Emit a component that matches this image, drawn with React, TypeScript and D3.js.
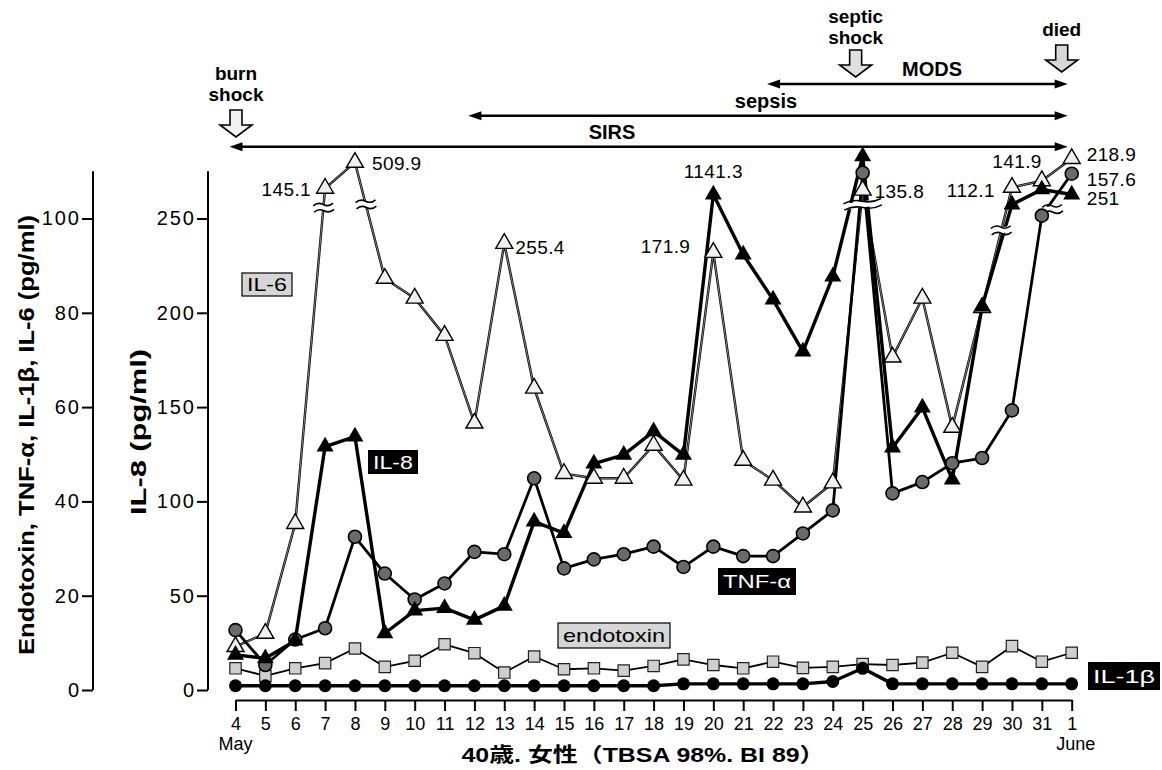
import React, { useRef, useEffect } from 'react';
import * as d3 from 'd3';

const FONT = '"Liberation Sans", Arial, Helvetica, sans-serif';
const NARROW = '"Liberation Sans Narrow", "Liberation Sans", Arial, sans-serif';
const CJK = '"Liberation Sans", "Noto Sans CJK JP", sans-serif';

// days of the stay, 4 May .. 1 June
const days = ['4', '5', '6', '7', '8', '9', '10', '11', '12', '13', '14', '15', '16', '17', '18', '19', '20',
  '21', '22', '23', '24', '25', '26', '27', '28', '29', '30', '31', '1'];

// left axis (pg/ml) -- values above 100 sit past the axis break, real value is in peakLabels
const il6 = [9.2, 12.0, 35.3, 106.4, 111.9, 87.3, 83.1, 75.2, 56.6, 94.7, 64.0, 45.9, 44.9, 44.9, 51.9, 44.5,
  92.8, 48.7, 44.5, 38.8, 43.9, 106, 70.6, 83.1, 55.7, 81.1, 106.6, 108.0, 112.7];
const tnf = [12.7, 5.3, 10.7, 13.1, 32.5, 24.7, 19.2, 22.6, 29.3, 28.8, 44.9, 25.8, 27.7, 28.8, 30.4, 26.1,
  30.4, 28.4, 28.4, 33.2, 38.1, 109.7, 41.7, 44.1, 48.1, 49.2, 59.3, 100.6, 109.5];
const endotoxin = [4.6, 3.0, 4.6, 5.7, 8.8, 4.9, 6.2, 9.7, 7.8, 3.7, 7.1, 4.4, 4.6, 4.1, 5.1, 6.5, 5.3, 4.6,
  6.0, 4.7, 4.9, 5.5, 5.3, 5.8, 7.9, 4.9, 9.3, 6.0, 7.9];
const il1b = [0.9, 0.9, 0.9, 0.9, 0.9, 0.9, 0.9, 0.9, 0.9, 0.9, 0.9, 0.9, 0.9, 0.9, 0.9, 1.3, 1.3, 1.3, 1.3,
  1.3, 1.8, 4.6, 1.3, 1.3, 1.3, 1.3, 1.3, 1.3, 1.3];
// IL-8 axis (pg/ml)
const il8 = [18.6, 16.8, 26.2, 129.1, 134.4, 30.1, 42.1, 43.4, 37.2, 44.6, 89.3, 83.2, 120, 124.7, 137.1, 124.7,
  262.7, 230.9, 207, 179.4, 219.2, 283, 128.5, 149.7, 111.5, 203.3, 257.4, 265.4, 262.7];

const leftTicks = [0, 20, 40, 60, 80, 100];
const il8Ticks = [0, 50, 100, 150, 200, 250];

const peakLabels = [
  { text: '145.1', series: 'il6', i: 3 },
  { text: '509.9', series: 'il6', i: 4 },
  { text: '255.4', series: 'il6', i: 9 },
  { text: '171.9', series: 'il6', i: 16 },
  { text: '1141.3', series: 'il8', i: 16 },
  { text: '135.8', series: 'tnf', i: 21 },
  { text: '112.1', series: 'il6', i: 26 },
  { text: '141.9', series: 'il6', i: 27 },
  { text: '218.9', series: 'il6', i: 28 },
  { text: '157.6', series: 'tnf', i: 28 },
  { text: '251', series: 'il8', i: 28 },
];

// axis-break marks (≈) on the lines, at fractional day index and left-axis value
const breaks = [
  { at: 2.95, v: 102.3, w: 20 },
  { at: 4.37, v: 103, w: 20 },
  { at: 21, v: 103, w: 38 },
  { at: 25.64, v: 97.5, w: 20 },
  { at: 27.36, v: 102, w: 20 },
];

const phases = [
  { name: 'SIRS', from: '4', to: '1' },
  { name: 'sepsis', from: '12', to: '1' },
  { name: 'MODS', from: '22', to: '1' },
];

const events = [
  { lines: ['burn', 'shock'], day: '4' },
  { lines: ['septic', 'shock'], day: '25' },
  { lines: ['died'], day: '1' },
];

export default function App() {
  const svgRef = useRef<SVGSVGElement>(null);

  useEffect(() => {
    const svg = d3.select(svgRef.current);
    svg.selectAll('*').remove();
    svg.append('rect').attr('width', 1162).attr('height', 770).attr('fill', 'white');

    const x = d3.scaleLinear().domain([0, days.length - 1]).range([235.5, 1071.7]);
    const yL = d3.scaleLinear().domain([0, 100]).range([690, 218.5]);
    const yR = d3.scaleLinear().domain([0, 250]).range([690, 218.5]);
    const dayX = (d: string) => x(days.indexOf(d));

    // ---- axes
    const styleAxis = (g: any, size: number, family: string, spacing: number) => {
      g.selectAll('.tick line').attr('stroke', '#000').attr('stroke-width', 2);
      g.selectAll('.tick text').attr('fill', '#000').style('font-size', size + 'px')
        .style('font-family', family).style('letter-spacing', spacing + 'px');
    };

    const gL = svg.append('g').attr('transform', 'translate(93,0)')
      .call(d3.axisLeft(yL).tickValues(leftTicks).tickSize(11).tickPadding(3));
    gL.select('.domain').remove();
    gL.append('line').attr('y1', yL(0)).attr('y2', yL(110)).attr('stroke', '#000').attr('stroke-width', 2);
    styleAxis(gL, 20, FONT, 2);
    gL.selectAll('.tick text').attr('dx', 2);

    const gR = svg.append('g').attr('transform', 'translate(208,0)')
      .call(d3.axisLeft(yR).tickValues(il8Ticks).tickSize(11).tickPadding(3));
    gR.select('.domain').remove();
    gR.append('line').attr('y1', yR(0)).attr('y2', yR(275)).attr('stroke', '#000').attr('stroke-width', 2);
    styleAxis(gR, 20, FONT, 2);
    gR.selectAll('.tick text').attr('dx', 2);

    const gX = svg.append('g').attr('transform', 'translate(0,700)')
      .call(d3.axisBottom(x).tickValues(d3.range(days.length)).tickFormat((i: any) => days[i])
        .tickSize(11).tickSizeOuter(0).tickPadding(6));
    gX.select('.domain').attr('stroke', '#000').attr('stroke-width', 2);
    styleAxis(gX, 18, NARROW, 0);

    svg.append('text').attr('x', x(0)).attr('y', 750).attr('text-anchor', 'middle')
      .style('font-family', FONT).style('font-size', '18px').text('May');
    svg.append('text').attr('x', x(days.length - 1) + 4).attr('y', 750).attr('text-anchor', 'middle')
      .style('font-family', FONT).style('font-size', '18px').text('June');

    svg.append('text').attr('x', 643).attr('y', 762).attr('text-anchor', 'middle')
      .attr('textLength', 363).attr('lengthAdjust', 'spacingAndGlyphs')
      .style('font-family', CJK).style('font-size', '20px').style('font-weight', 'bold')
      .text('40歳. 女性（TBSA 98%. BI 89）');

    svg.append('text').attr('transform', 'translate(26,435) rotate(-90)').attr('text-anchor', 'middle')
      .attr('dy', '0.35em').attr('textLength', 440).attr('lengthAdjust', 'spacingAndGlyphs')
      .style('font-family', FONT).style('font-size', '22px').style('font-weight', 'bold')
      .text('Endotoxin, TNF-α, IL-1β, IL-6 (pg/ml)');
    svg.append('text').attr('transform', 'translate(138,432) rotate(-90)').attr('text-anchor', 'middle')
      .attr('dy', '0.35em').attr('textLength', 166).attr('lengthAdjust', 'spacingAndGlyphs')
      .style('font-family', FONT).style('font-size', '22px').style('font-weight', 'bold')
      .text('IL-8 (pg/ml)');

    // ---- phase arrows and event arrows
    const phaseY: Record<string, number> = { SIRS: 146.7, sepsis: 115.7, MODS: 84 };
    const phaseLabelX: Record<string, number> = { SIRS: 612, sepsis: 766, MODS: 932 };
    phases.forEach(p => {
      const y = phaseY[p.name];
      const x1 = dayX(p.from) - 6;
      const x2 = dayX(p.to) - 4;
      svg.append('line').attr('x1', x1 + 6).attr('x2', x2 - 6).attr('y1', y).attr('y2', y)
        .attr('stroke', '#000').attr('stroke-width', 2.6);
      svg.append('path').attr('d', `M${x1},${y} L${x1 + 13},${y - 4.5} L${x1 + 13},${y + 4.5} Z`).attr('fill', '#000');
      svg.append('path').attr('d', `M${x2},${y} L${x2 - 13},${y - 4.5} L${x2 - 13},${y + 4.5} Z`).attr('fill', '#000');
      svg.append('text').attr('x', phaseLabelX[p.name]).attr('y', y - 8).attr('text-anchor', 'middle')
        .style('font-family', FONT).style('font-size', '20px').style('font-weight', 'bold').text(p.name);
    });

    const eventLayout: Record<string, { dx: number; top: number; base: number; fill: string }> = {
      burn: { dx: 0.5, top: 110, base: 80, fill: '#f2f2f2' },
      septic: { dx: -7, top: 50, base: 23, fill: '#e0e0e0' },
      died: { dx: -10, top: 45, base: 36, fill: '#d8d8d8' },
    };
    events.forEach(e => {
      const L = eventLayout[e.lines[0]];
      const cx = dayX(e.day) + L.dx;
      e.lines.forEach((t, k) => {
        svg.append('text').attr('x', cx).attr('y', L.base + k * 21).attr('text-anchor', 'middle')
          .style('font-family', FONT).style('font-size', '19px').style('font-weight', 'bold').text(t);
      });
      const t = L.top;
      svg.append('path')
        .attr('d', `M${cx - 6},${t} L${cx + 6},${t} L${cx + 6},${t + 15} L${cx + 16},${t + 15} L${cx},${t + 27} L${cx - 16},${t + 15} L${cx - 6},${t + 15} Z`)
        .attr('fill', L.fill).attr('stroke', '#000').attr('stroke-width', 1.6).attr('stroke-linejoin', 'miter');
    });

    // ---- series lines
    const lineL = d3.line<number>().x((d, i) => x(i)).y(d => yL(d));
    const lineR = d3.line<number>().x((d, i) => x(i)).y(d => yR(d));

    const addLine = (data: number[], gen: any, w: number) =>
      svg.append('path').datum(data).attr('d', gen).attr('fill', 'none')
        .attr('stroke', '#000').attr('stroke-width', w).attr('stroke-linejoin', 'round');

    addLine(endotoxin, lineL, 1.8);
    addLine(il6, lineL, 2.4);
    svg.append('path').datum(il6).attr('d', lineL).attr('fill', 'none')
      .attr('stroke', '#bbb').attr('stroke-width', 0.7);
    addLine(tnf, lineL, 2.8);
    addLine(il8, lineR, 3.4);
    addLine(il1b, lineL, 3.4);

    // ---- break marks
    breaks.forEach(b => {
      const g = svg.append('g').attr('transform', `translate(${x(b.at)},${yL(b.v)}) rotate(-8)`);
      const h = b.w / 2;
      g.append('rect').attr('x', -h).attr('y', -3).attr('width', b.w).attr('height', 6).attr('fill', 'white');
      [-3.2, 3.2].forEach(o => {
        g.append('path').attr('d', `M${-h},${o} Q${-h / 2},${o - 3.5} 0,${o} T${h},${o}`)
          .attr('fill', 'none').attr('stroke', '#000').attr('stroke-width', 1.6);
      });
    });

    // ---- markers
    const tri = d3.symbol().type(d3.symbolTriangle).size(125)();
    const sq = d3.symbol().type(d3.symbolSquare).size(130)();

    svg.append('g').selectAll('path').data(endotoxin).enter().append('path')
      .attr('d', sq).attr('transform', (d, i) => `translate(${x(i)},${yL(d)})`)
      .attr('fill', '#cfcfcf').attr('stroke', '#222').attr('stroke-width', 1.2);
    svg.append('g').selectAll('path').data(il6).enter().append('path')
      .attr('d', tri).attr('transform', (d, i) => `translate(${x(i)},${yL(d)})`)
      .attr('fill', '#f0f0f0').attr('stroke', '#000').attr('stroke-width', 1.4);
    svg.append('g').selectAll('circle').data(tnf).enter().append('circle')
      .attr('cx', (d, i) => x(i)).attr('cy', d => yL(d)).attr('r', 6.5)
      .attr('fill', '#6a6a6a').attr('stroke', '#000').attr('stroke-width', 1.6);
    svg.append('g').selectAll('path').data(il8).enter().append('path')
      .attr('d', tri).attr('transform', (d, i) => `translate(${x(i)},${yR(d)})`)
      .attr('fill', '#000');
    svg.append('g').selectAll('circle').data(il1b).enter().append('circle')
      .attr('cx', (d, i) => x(i)).attr('cy', d => yL(d)).attr('r', 6.5).attr('fill', '#000');

    // ---- values past the break
    const seriesY: Record<string, (i: number) => number> = {
      il6: i => yL(il6[i]), tnf: i => yL(tnf[i]), il8: i => yR(il8[i]),
    };
    const labelOffset: Record<string, [number, number, string]> = {
      '145.1': [-14, 8, 'end'], '509.9': [17, 8, 'start'], '255.4': [11, 11, 'start'],
      '171.9': [-23, 1, 'end'], '1141.3': [0, -17, 'middle'], '135.8': [12, 25, 'start'],
      '112.1': [-17, 10, 'end'], '141.9': [0, -13, 'end'], '218.9': [15, 2, 'start'],
      '157.6': [15, 12, 'start'], '251': [15, 10, 'start'],
    };
    peakLabels.forEach(p => {
      const [dx, dy, anchor] = labelOffset[p.text];
      svg.append('text').attr('x', x(p.i) + dx).attr('y', seriesY[p.series](p.i) + dy)
        .attr('text-anchor', anchor).style('font-family', FONT).style('font-size', '19px')
        .style('letter-spacing', '0.4px').text(p.text);
    });

    // ---- series name boxes
    const box = (bx: number, by: number, bw: number, bh: number, text: string, dark: boolean) => {
      svg.append('rect').attr('x', bx).attr('y', by).attr('width', bw).attr('height', bh)
        .attr('fill', dark ? '#000' : '#d6d6d6').attr('stroke', '#000').attr('stroke-width', dark ? 0 : 1.2);
      svg.append('text').attr('x', bx + bw / 2).attr('y', by + bh / 2).attr('dy', '0.36em')
        .attr('text-anchor', 'middle').attr('fill', dark ? '#fff' : '#000')
        .attr('textLength', bw - 10).attr('lengthAdjust', 'spacingAndGlyphs')
        .style('font-family', FONT).style('font-size', '19px').text(text);
    };
    box(242, 273, 50, 23, 'IL-6', false);
    box(368, 450, 50, 24, 'IL-8', true);
    box(718, 568, 78, 27, 'TNF-α', true);
    box(558, 623, 112, 25, 'endotoxin', false);
    box(1088, 662, 72, 28, 'IL-1β', true);
  }, []);

  return <svg ref={svgRef} width={1162} height={770} style={{ position: 'absolute', left: 0, top: 0 }} />;
}
